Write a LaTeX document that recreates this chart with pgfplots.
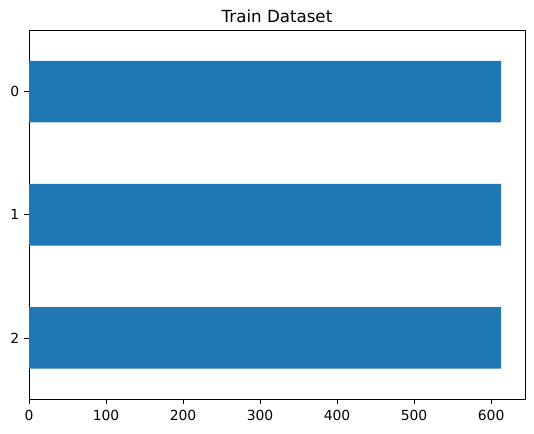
\documentclass[border=0pt]{standalone}
\usepackage{fontspec}
\setmainfont{DejaVu Sans}
\usepackage{pgfplots}
\pgfplotsset{compat=1.18}
\definecolor{mplblue}{HTML}{1F77B4}
\begin{document}
\begin{tikzpicture}
\begin{axis}[
  name=ax,
  scale only axis,
  width=357pt, height=266pt,
  xbar, bar width=0.5,
  xmin=0, xmax=644,
  ymin=-0.5, ymax=2.5,
  y dir=reverse,
  ytick={0,1,2},
  xtick={0,100,...,600},
  tick align=outside,
  tick pos=left,
  major tick length=3.5pt,
  every tick/.style={black, line width=0.6pt},
  axis line style={line width=0.6pt},
  ticklabel style={font=\fontsize{10}{12}\selectfont},
  /pgf/number format/assume math mode=true,
  xticklabel style={yshift=-1pt},
  title={Train Dataset},
  title style={font=\fontsize{12}{14}\selectfont, yshift=-4pt},
]
\addplot[fill=mplblue, draw=none] coordinates {(613,0) (613,1) (613,2)};
\end{axis}
\pgfresetboundingbox
\path ([xshift=-20.9pt, yshift=-24.5pt]ax.south west) rectangle ([xshift=6.5pt, yshift=21.6pt]ax.north east);
\end{tikzpicture}
\end{document}
